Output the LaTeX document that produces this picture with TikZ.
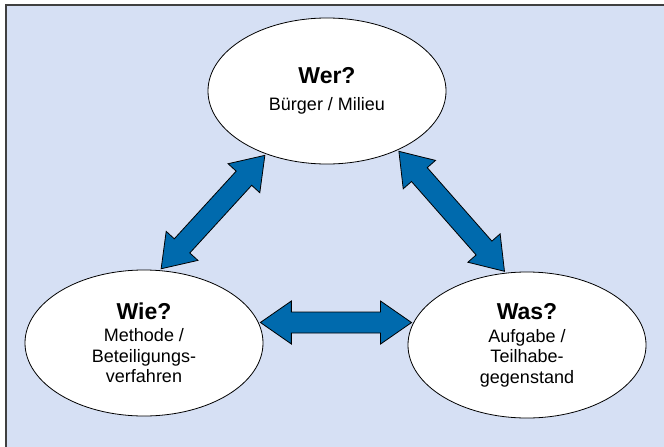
\documentclass[tikz,border=0pt]{standalone}
\usepackage{fontspec}
\setmainfont{Liberation Sans}
\usetikzlibrary{shapes.geometric,calc}

\definecolor{bgblue}{RGB}{214,224,244}
\definecolor{arrowblue}{RGB}{0,106,173}

% double block arrow between two points
\newcommand{\dblarrow}[2]{%
  \path (#1) coordinate (t1) (#2) coordinate (t2)
    ($(t1)!31pt!(t2)$) coordinate (h1) ($(t2)!31pt!(t1)$) coordinate (h2);
  \draw[blockarrow] (t1) -- ($(h1)!21.5pt!90:(t2)$) -- ($(h1)!10.5pt!90:(t2)$)
    -- ($(h2)!10.5pt!-90:(t1)$) -- ($(h2)!21.5pt!-90:(t1)$) -- (t2)
    -- ($(h2)!21.5pt!90:(t1)$) -- ($(h2)!10.5pt!90:(t1)$)
    -- ($(h1)!10.5pt!-90:(t2)$) -- ($(h1)!21.5pt!-90:(t2)$) -- cycle;}

\begin{document}
\begin{tikzpicture}[x=1pt,y=-1pt]
\tikzset{topic/.style={draw,ellipse,fill=white,line width=0.8pt,minimum width=238pt,minimum height=146pt,
    align=center,font=\fontsize{18}{20.5}\selectfont,outer sep=2pt},
  blockarrow/.style={draw,fill=arrowblue,line width=0.8pt,line join=miter}};
   \useasboundingbox (0,0) rectangle (664,447);
   \clip (0,0) rectangle (664,447);
   \draw[fill=bgblue,draw=black!75,line width=1.5pt] (6,5) rectangle (680,460);

   \node[topic] at (327,91) (wer) {{\fontsize{23}{26}\selectfont\bfseries Wer?}\\[6.5pt]Bürger / Milieu};
   \node[topic] at (144,343) (wie) {{\fontsize{23}{26}\selectfont\bfseries Wie?}\\[1pt]Methode /\\Beteiligungs-\\verfahren};
   \node[topic] at (527,345) (was) {{\fontsize{23}{26}\selectfont\bfseries Was?}\\[2.5pt]Aufgabe /\\Teilhabe-\\gegenstand};

   \dblarrow{wie.10}{was.169}
   \dblarrow{wie.77}{wer.226}
   \dblarrow{wer.320}{was.107}

\end{tikzpicture}
\end{document}
